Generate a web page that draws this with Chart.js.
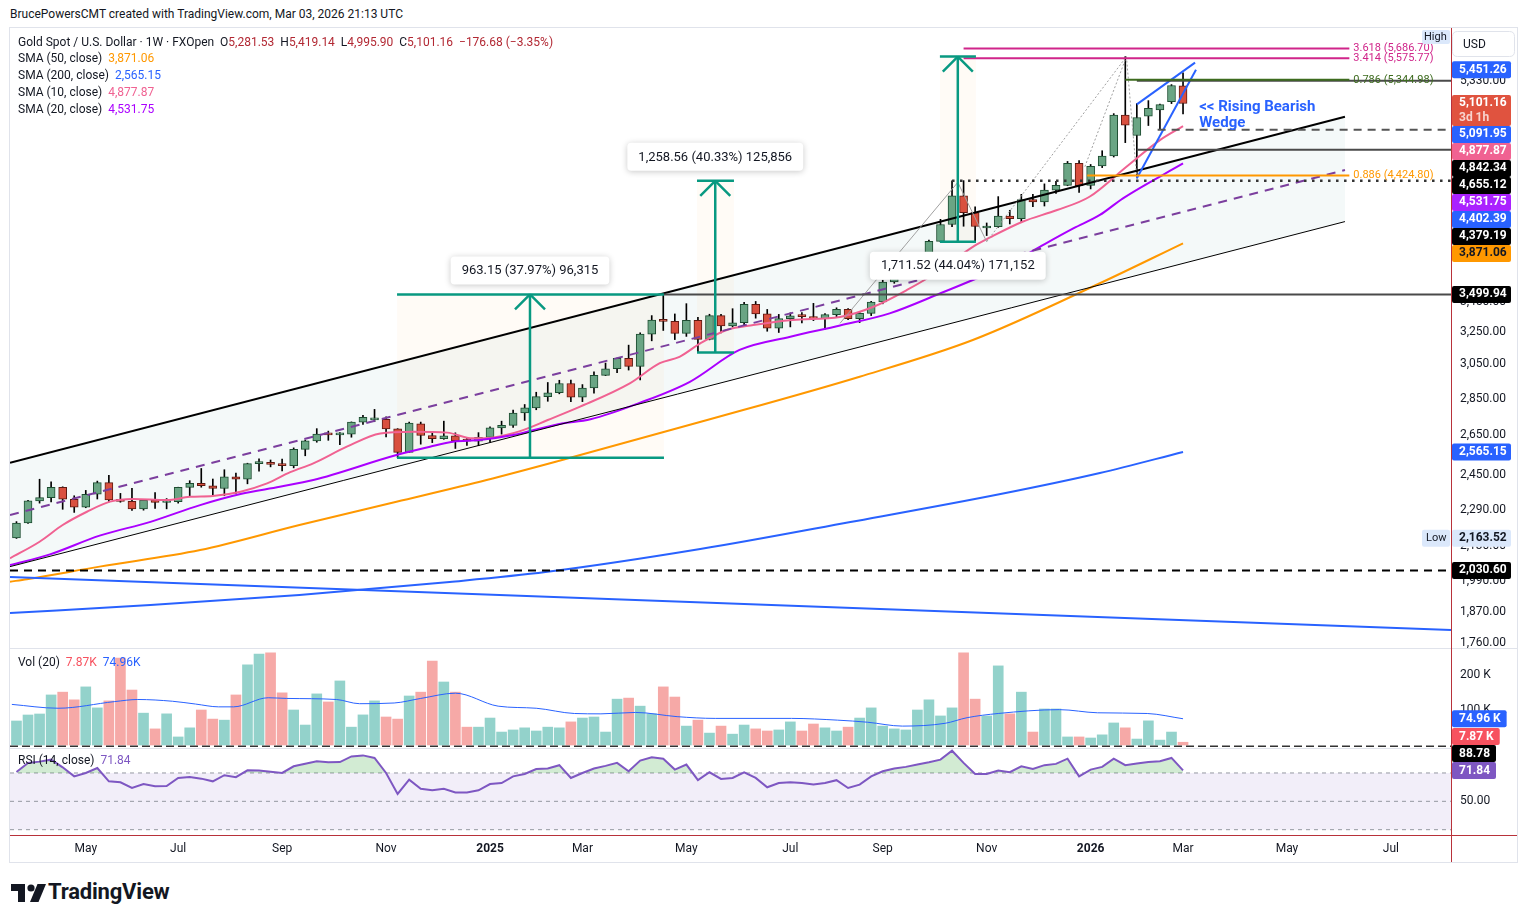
<!DOCTYPE html>
<html lang="en">
<head>
<meta charset="utf-8">
<title>Gold Spot / U.S. Dollar · 1W</title>
<script src="https://cdn.jsdelivr.net/npm/chart.js@4.4.1/dist/chart.umd.min.js"></script>
<style>
  html, body { margin: 0; padding: 0; background: #ffffff; }
  body { position: relative; width: 1527px; height: 923px; overflow: hidden;
         font-family: Roboto, "Noto Sans", "DejaVu Sans", sans-serif; color: #131722; }
  .txt { position: absolute; white-space: nowrap; font-size: 12px; line-height: 16px; }
  .line { position: absolute; }
  canvas { position: absolute; left: 10px; }
  .dn { color: #b22833; }
</style>
</head>
<body>
<div class="txt" style="left:10px;top:6px;">BrucePowersCMT created with TradingView.com, Mar 03, 2026 21:13 UTC</div>
<div class="line" style="left:9px;top:27px;width:1509px;height:836px;border:1px solid #e0e3eb;box-sizing:border-box;"></div>

<canvas id="priceChart" width="1507" height="620" style="top:28px"></canvas>
<canvas id="volChart" width="1507" height="100" style="top:648px"></canvas>
<canvas id="rsiChart" width="1507" height="117" style="top:745px"></canvas>

<div class="line" style="left:10px;top:648px;width:1507px;height:1px;background:#e0e3eb"></div>
<div class="line" style="left:10px;top:748px;width:1441px;height:1px;background:#e0e3eb"></div>
<div class="line" style="left:10px;top:835px;width:1507px;height:1px;background:#b8323a"></div>
<div class="line" style="left:1451px;top:28px;width:1px;height:834px;background:#b8323a"></div>

<div class="txt" style="left:18px;top:34px">Gold Spot / U.S. Dollar · 1W · FXOpen&nbsp;&nbsp;O<span class="dn">5,281.53</span>&nbsp;&nbsp;H<span class="dn">5,419.14</span>&nbsp;&nbsp;L<span class="dn">4,995.90</span>&nbsp;&nbsp;C<span class="dn">5,101.16</span>&nbsp;&nbsp;<span class="dn">−176.68 (−3.35%)</span></div>
<div class="txt" style="left:18px;top:50px">SMA (50, close)&nbsp;&nbsp;<span style="color:#ff9800">3,871.06</span></div>
<div class="txt" style="left:18px;top:67px">SMA (200, close)&nbsp;&nbsp;<span style="color:#2962ff">2,565.15</span></div>
<div class="txt" style="left:18px;top:84px">SMA (10, close)&nbsp;&nbsp;<span style="color:#f06292">4,877.87</span></div>
<div class="txt" style="left:18px;top:101px">SMA (20, close)&nbsp;&nbsp;<span style="color:#aa00ff">4,531.75</span></div>
<div class="txt" style="left:18px;top:654px">Vol (20)&nbsp;&nbsp;<span style="color:#f7525f">7.87K</span>&nbsp;&nbsp;<span style="color:#2962ff">74.96K</span></div>
<div class="txt" style="left:18px;top:752px">RSI (14, close)&nbsp;&nbsp;<span style="color:#7e57c2">71.84</span></div>

<svg class="line" style="left:11px;top:884px" width="36" height="18" viewBox="0 0 36 18">
  <path d="M0 0h14v18h-7v-11h-7z" fill="#131722"/>
  <circle cx="20" cy="4" r="3.6" fill="#131722"/>
  <path d="M19 18l7.5-18h8.5l-7.5 18z" fill="#131722"/>
</svg>
<div class="txt" style="left:48px;top:879px;font-size:22px;line-height:26px;font-weight:700;letter-spacing:-0.2px">TradingView</div>

<script>
// weekly candles, index 0 = week of Mar 25 2024, index 101 = week of Mar 2 2026
const opens = [2165,2230,2329,2344,2392,2337,2301,2360,2415,2334,
  2327,2293,2333,2322,2326,2392,2411,2400,2387,2443,
  2431,2507,2512,2503,2497,2578,2622,2658,2653,2657,
  2721,2733,2736,2685,2563,2712,2650,2633,2648,2622,
  2621,2640,2690,2703,2770,2798,2861,2883,2936,2858,
  2910,2984,3023,3085,3037,3237,3327,3319,3241,3325,
  3203,3357,3289,3310,3433,3368,3274,3337,3355,3350,
  3337,3363,3398,3336,3372,3448,3587,3643,3685,3760,
  3886,4018,4252,4113,3990,4000,4085,4065,4220,4200,
  4300,4340,4532,4340,4510,4600,4985,4789,4975,5036,
  5120,5281.53];
const highs = [2236,2332,2431,2418,2395,2353,2378,2422,2450,2364,
  2388,2336,2368,2340,2393,2424,2483,2432,2477,2461,
  2509,2531,2525,2529,2586,2626,2686,2673,2665,2722,
  2758,2790,2750,2686,2721,2721,2665,2726,2664,2638,
  2665,2695,2726,2786,2817,2886,2942,2955,2956,2930,
  3005,3057,3087,3167,3245,3357,3500,3368,3437,3345,
  3366,3365,3403,3446,3452,3398,3365,3375,3377,3439,
  3370,3409,3404,3378,3453,3600,3674,3707,3791,3897,
  4059,4379,4381,4161,4030,4245,4132,4264,4264,4353,
  4375,4550,4557,4523,4647,5000,5595,5101,5130,5096,
  5295,5419.14];
const lows = [2163,2228,2319,2324,2291,2277,2298,2338,2325,2323,
  2286,2287,2295,2293,2319,2353,2393,2353,2353,2364,
  2409,2470,2491,2471,2486,2546,2615,2625,2603,2641,
  2708,2723,2643,2536,2563,2605,2613,2630,2583,2599,
  2597,2615,2657,2692,2730,2788,2835,2877,2833,2833,
  2880,2982,3000,3015,2957,3194,3260,3202,3222,3121,
  3200,3245,3282,3293,3340,3255,3247,3283,3309,3324,
  3268,3348,3330,3311,3357,3436,3578,3627,3628,3717,
  3884,4000,4004,3886,3931,3995,4022,4040,4161,4167,
  4271,4337,4280,4310,4495,4590,4722,4404,4884,4854,
  5100,4995.90];
const closes = [2230,2329,2344,2392,2337,2301,2360,2415,2334,2327,
  2293,2333,2322,2326,2392,2411,2400,2387,2443,2431,
  2507,2512,2503,2497,2578,2622,2658,2653,2657,2721,
  2747,2736,2685,2563,2716,2650,2633,2648,2622,2621,
  2640,2690,2703,2770,2798,2861,2883,2936,2858,2910,
  2984,3023,3085,3037,3237,3327,3319,3241,3325,3203,
  3357,3289,3310,3433,3368,3274,3337,3355,3350,3337,
  3363,3398,3336,3372,3448,3587,3643,3685,3760,3886,
  4018,4252,4113,4002,4000,4085,4065,4220,4200,4300,
  4340,4532,4337,4507,4598,4985,4887,4962,5052,5090,
  5285,5101.16];
// volume in thousands
const volumes = [68.6,85.7,88.6,143,151,129,166,106,126,248,
  157,91,46,89,23,49,100,74,71,143,
  229,260,263,149,100,57,146,123,183,51,
  86,126,80,74,140,151,240,180,151,51,
  51,77,37,43,49,40,51,49,66,77,
  80,37,131,134,111,89,166,137,54,71,
  34,54,31,57,46,40,43,66,40,60,
  49,40,51,77,106,54,46,43,100,129,
  83,106,263,131,83,226,89,151,37,103,
  103,23,23,20,29,63,49,17,69,14,
  37,7.87];
const rsiValues = [70.7,77,78,79.4,74,67.6,70,73.5,64.1,63.4,
  59.4,62.2,60.6,60.8,66.5,67.2,66,64.1,68.4,67,
  71.9,71.7,70.8,70,74.7,76.5,78.3,77.5,77.7,81.7,
  82.4,80.6,70,55.2,65.3,58.9,57.8,58.9,56.3,56.3,
  57.8,62.2,62.9,67.6,69.3,72.8,73.1,75.5,66.5,70,
  73.1,75,77.1,71.2,78.7,81.1,80.1,72.4,75.9,64.9,
  70.5,65.8,66.5,70.5,66.5,59.9,62.9,63.5,63,61.8,
  62.9,64.9,59.4,61.8,67.6,71.2,73.1,74.3,76,77.5,
  79.4,85.7,77.1,69.3,69.3,71.7,70.5,74.7,72.8,75.5,
  76.4,80.1,67.6,72.4,74.3,80.1,75.5,76.6,77.8,78.3,
  80.6,71.84];

// moving averages: [week, value]
const sma10 = [[-0.56,2080],[2,2149],[4,2221],[6.1,2280],[8.1,2326],[10.1,2338],[13,2333],[15,2348],[17,2352],[19.4,2372],[21.7,2411],[23.7,2465],[25.7,2508],[28.6,2592],[31.5,2661],[34.3,2670],[37.3,2665],[39.5,2635],[41.3,2640],[43.6,2673],[46,2732],[48.8,2805],[53.1,2937],[55.7,3056],[57.4,3095],[59.2,3178],[61.5,3263],[63.8,3295],[67.2,3328],[71.3,3348],[74.2,3416],[77.1,3531],[80,3673],[82.8,3845],[84.3,3917],[87.1,4040],[90.1,4134],[92.9,4244],[96.1,4503],[99,4746],[101,4877.87]];
const sma20 = [[-0.56,2052],[2.9,2096],[7.2,2175],[11.6,2235],[15.9,2310],[19.4,2361],[22.8,2395],[25.7,2427],[32.9,2550],[35.8,2592],[37.8,2618],[40.1,2626],[43,2652],[47,2711],[49.7,2736],[54,2827],[58.3,2946],[62.6,3137],[67,3220],[71.3,3292],[75.6,3372],[80,3508],[82.8,3601],[85.8,3709],[88.6,3845],[91.5,3987],[93.8,4094],[95.8,4231],[101,4531.75]];
const sma50 = [[-0.56,1986],[0.9,1996],[7.2,2046],[15.9,2114],[24.5,2221],[32.9,2325],[40.7,2427],[47,2521],[59.8,2732],[73,2976],[82.8,3199],[93.8,3578],[101,3871.06]];
const sma200 = [[-0.56,1867],[11.6,1897],[24.5,1935],[37.5,1985],[45.8,2024],[59.2,2118],[72.2,2234],[85.2,2361],[93.8,2461],[101,2565.15]];
const volMA = [[-0.4,116],[3.6,105],[8.5,124],[10.5,130],[13.5,125],[15.5,117],[17.5,109],[18.8,109],[21.8,135],[23.4,133],[27.7,130],[29.7,118],[32.7,120],[35,133],[38,148],[41.7,111],[45,105],[48.3,90],[50.6,89],[53.6,93],[57.2,81],[60.5,76],[67.1,76],[71.1,71],[73.7,65],[76.7,54],[80.4,62],[82.3,78],[85,90],[90.3,101],[93.6,92],[97.9,90],[101,74.96]];

// axis ticks
const priceTicks = [5330, 3450, 3250, 3050, 2850, 2650, 2450, 2290, 2130, 1990, 1870, 1760];
const volTicks = [200, 100];
const rsiTicks = [50];
const monthWeeks = [6, 14, 23, 32, 41, 49, 58, 67, 75, 84, 93, 101, 110, 119];
const monthLabels = ['May', 'Jul', 'Sep', 'Nov', '2025', 'Mar', 'May', 'Jul', 'Sep', 'Nov', '2026', 'Mar', 'May', 'Jul'];

// drawings (week, price anchors)
const channel = { top: [[-0.56, 2511], [115.02, 4969]], mid: [[-0.56, 2265], [115.02, 4474]], bot: [[-0.56, 2046], [115.02, 4041]] };
const trendLines = [
  { a: [-0.56, 2511], b: [115.02, 4969], color: '#000000', width: 2 },
  { a: [-0.56, 2265], b: [115.02, 4474], color: '#7b3f9e', width: 2, dash: [9, 7] },
  { a: [-0.56, 2046], b: [115.02, 4041], color: '#000000', width: 1 },
  { a: [-0.56, 2005], b: [124.2, 1806], color: '#2962ff', width: 2 },
  { a: [71.3, 3306], b: [81.5, 4366], color: '#a0a0a0', width: 1 },
  { a: [81.5, 4366], b: [84.0, 3884], color: '#a0a0a0', width: 1 },
  { a: [84.0, 3884], b: [96.1, 5595], color: '#a0a0a0', width: 1, dash: [2, 2] },
  { a: [92.5, 4503], b: [96.1, 5595], color: '#a0a0a0', width: 1, dash: [2, 2] },
  { a: [96.1, 5595], b: [97.0, 4404], color: '#a0a0a0', width: 1, dash: [2, 2] },
  { a: [97.0, 5091.95], b: [102.04, 5529], color: '#2962ff', width: 2 },
  { a: [97.0, 4402.39], b: [102.12, 5451.26], color: '#2962ff', width: 2 }
];
const levels = [
  { p: 2030.60, i0: -0.56, i1: 124.2, color: '#000000', width: 2, dash: [8, 6] },
  { p: 3499.94, i0: 56.06, i1: 124.2, color: '#4a4a4a', width: 2 },
  { p: 4379.19, i0: 81.0, i1: 124.2, color: '#333333', width: 2.5, dash: [2.5, 5.5] },
  { p: 4655.12, i0: 97.0, i1: 124.2, color: '#4a4a4a', width: 2 },
  { p: 4842.34, i0: 98.8, i1: 124.2, color: '#555555', width: 2, dash: [8, 6] },
  { p: 5335.00, i0: 97.0, i1: 124.2, color: '#4a4a4a', width: 2 }
];
const fibLevels = [
  { p: 5686.70, i0: 82.0, text: '3.618 (5,686.70)', color: '#d0258a' },
  { p: 5575.77, i0: 82.0, text: '3.414 (5,575.77)', color: '#d0258a' },
  { p: 5344.98, i0: 96.0, text: '0.786 (5,344.98)', color: '#3d6b1e' },
  { p: 4424.80, i0: 92.7, text: '0.886 (4,424.80)', color: '#ff9800' }
];
const fibEnd = 115.4;
const measures = [
  { lo: 2536.75, hi: 3499.90, i0: 32.95, i1: 56.06, ic: 44.46, text: '963.15 (37.97%) 96,315', pos: 'above' },
  { lo: 3120.63, hi: 4379.19, i0: 58.92, i1: 62.12, ic: 60.5, text: '1,258.56 (40.33%) 125,856', pos: 'above' },
  { lo: 3883.58, hi: 5595.10, i0: 79.95, i1: 83.07, ic: 81.5, text: '1,711.52 (44.04%) 171,152', pos: 'below' }
];
const wedgeNote = { at: [102.4, 5066], lines: ['<< Rising Bearish', 'Wedge'] };

const priceTags = [
  { v: 5451.26, bg: '#2962ff' },
  { v: 5101.16, bg: '#e0533f', sub: '3d 1h' },
  { v: 5091.95, bg: '#2962ff' },
  { v: 4877.87, bg: '#f06292' },
  { v: 4842.34, bg: '#000000' },
  { v: 4655.12, bg: '#000000' },
  { v: 4531.75, bg: '#aa22ff' },
  { v: 4402.39, bg: '#2962ff' },
  { v: 4379.19, bg: '#000000' },
  { v: 3871.06, bg: '#ff9800', fg: '#131722' },
  { v: 3499.94, bg: '#000000' },
  { v: 2565.15, bg: '#2962ff' },
  { v: 2163.52, bg: '#dbe8fb', fg: '#131722', pre: 'Low' },
  { v: 2030.60, bg: '#000000' }
];
const volTags = [ { v: 74.96, bg: '#2962ff', text: '74.96 K' }, { v: 7.87, bg: '#f7525f', text: '7.87 K' } ];
const rsiTags = [ { v: 88.78, bg: '#000000', text: '88.78' }, { v: 71.84, bg: '#7e57c2', text: '71.84' } ];

const X_MIN = -0.56, X_MAX = 124.2;
const FONT = 'Roboto, "Noto Sans", sans-serif';
const weeks = opens.map((_, i) => i);
const isUp = weeks.map(i => closes[i] >= opens[i]);
const pts = arr => arr.map(([x, y]) => ({ x, y }));
const fmt2 = v => v.toLocaleString('en-US', { minimumFractionDigits: 2, maximumFractionDigits: 2 });

function roundRect(ctx, x, y, w, h, r) {
  ctx.beginPath();
  ctx.moveTo(x + r, y); ctx.lineTo(x + w - r, y); ctx.quadraticCurveTo(x + w, y, x + w, y + r);
  ctx.lineTo(x + w, y + h - r); ctx.quadraticCurveTo(x + w, y + h, x + w - r, y + h);
  ctx.lineTo(x + r, y + h); ctx.quadraticCurveTo(x, y + h, x, y + h - r);
  ctx.lineTo(x, y + r); ctx.quadraticCurveTo(x, y, x + r, y); ctx.closePath();
}

// stack tags so they do not overlap, like the price scale does
function stackTags(list, toY, top, bottom) {
  const items = list.map(t => Object.assign({}, t, { h: t.sub ? 31 : 17 })).sort((a, b) => b.v - a.v);
  let prev = top;
  items.forEach(t => {
    let y0 = toY(t.v) - 8.5;
    if (y0 < prev) y0 = prev;
    t.top = y0; prev = y0 + t.h;
  });
  let lim = bottom;
  for (let k = items.length - 1; k >= 0; k--) {
    const t = items[k];
    if (t.top + t.h > lim) t.top = lim - t.h;
    lim = t.top;
  }
  return items;
}

function drawTag(ctx, x, t, w) {
  ctx.fillStyle = t.bg;
  roundRect(ctx, x, t.top, w, t.h, 2);
  ctx.fill();
  ctx.fillStyle = t.fg || '#ffffff';
  ctx.font = 'bold 12px ' + FONT;
  ctx.textAlign = 'left';
  ctx.textBaseline = 'middle';
  ctx.fillText(t.text || fmt2(t.v), x + 7, t.top + 8.5);
  if (t.sub) {
    ctx.fillStyle = 'rgba(255,255,255,0.75)';
    ctx.fillText(t.sub, x + 7, t.top + 23);
  }
}

function segment(ctx, x1, y1, x2, y2, color, width, dash) {
  ctx.beginPath();
  ctx.strokeStyle = color; ctx.lineWidth = width;
  ctx.setLineDash(dash || []);
  ctx.moveTo(x1, y1); ctx.lineTo(x2, y2); ctx.stroke();
  ctx.setLineDash([]);
}

const priceDrawings = {
  id: 'priceDrawings',
  beforeDatasetsDraw(chart) {
    const { ctx, chartArea: a } = chart;
    const X = v => chart.scales.x.getPixelForValue(v), Y = v => chart.scales.y.getPixelForValue(v);
    ctx.save();
    ctx.beginPath(); ctx.rect(a.left, a.top, a.width, a.height); ctx.clip();
    ctx.fillStyle = 'rgba(0,121,107,0.045)';
    ctx.beginPath();
    ctx.moveTo(X(channel.top[0][0]), Y(channel.top[0][1]));
    ctx.lineTo(X(channel.top[1][0]), Y(channel.top[1][1]));
    ctx.lineTo(X(channel.bot[1][0]), Y(channel.bot[1][1]));
    ctx.lineTo(X(channel.bot[0][0]), Y(channel.bot[0][1]));
    ctx.closePath(); ctx.fill();
    ctx.fillStyle = 'rgba(255,152,0,0.035)';
    measures.forEach(m => ctx.fillRect(X(m.i0), Y(m.hi), X(m.i1) - X(m.i0), Y(m.lo) - Y(m.hi)));
    ctx.restore();
  },
  afterDatasetsDraw(chart) {
    const { ctx, chartArea: a } = chart;
    const X = v => chart.scales.x.getPixelForValue(v), Y = v => chart.scales.y.getPixelForValue(v);
    ctx.save();
    ctx.beginPath(); ctx.rect(a.left, a.top, a.width, a.height); ctx.clip();
    trendLines.forEach(l => segment(ctx, X(l.a[0]), Y(l.a[1]), X(l.b[0]), Y(l.b[1]), l.color, l.width, l.dash));
    levels.forEach(l => segment(ctx, X(l.i0), Y(l.p), X(l.i1), Y(l.p), l.color, l.width, l.dash));
    ctx.font = '11px ' + FONT; ctx.textBaseline = 'middle'; ctx.textAlign = 'left';
    fibLevels.forEach(f => {
      segment(ctx, X(f.i0), Y(f.p), X(fibEnd), Y(f.p), f.color, 2);
      ctx.fillStyle = f.color;
      ctx.fillText(f.text, X(fibEnd) + 4, Y(f.p));
    });
    // price range measurements
    measures.forEach(m => {
      const c = '#089981';
      segment(ctx, X(m.i0), Y(m.lo), X(m.i1), Y(m.lo), c, 2.5);
      segment(ctx, X(m.i0), Y(m.hi), X(m.i1), Y(m.hi), c, 2.5);
      segment(ctx, X(m.ic), Y(m.lo), X(m.ic), Y(m.hi), c, 2.5);
      segment(ctx, X(m.ic) - 15, Y(m.hi) + 15, X(m.ic), Y(m.hi), c, 2.5);
      segment(ctx, X(m.ic) + 15, Y(m.hi) + 15, X(m.ic), Y(m.hi), c, 2.5);
      ctx.font = '13px ' + FONT;
      const w = ctx.measureText(m.text).width + 22, h = 28;
      const cy = m.pos === 'above' ? Y(m.hi) - 10 - h / 2 : Y(m.lo) + 10 + h / 2;
      ctx.save();
      ctx.shadowColor = 'rgba(0,0,0,0.22)'; ctx.shadowBlur = 6; ctx.shadowOffsetY = 1;
      ctx.fillStyle = '#ffffff';
      roundRect(ctx, X(m.ic) - w / 2, cy - h / 2, w, h, 4); ctx.fill();
      ctx.restore();
      ctx.fillStyle = '#131722'; ctx.textAlign = 'center'; ctx.textBaseline = 'middle';
      ctx.fillText(m.text, X(m.ic), cy + 0.5);
    });
    ctx.fillStyle = '#2962ff'; ctx.font = 'bold 15px ' + FONT; ctx.textAlign = 'left';
    wedgeNote.lines.forEach((s, k) => ctx.fillText(s, X(wedgeNote.at[0]), Y(wedgeNote.at[1]) + k * 16));
    ctx.restore();
  },
  afterDraw(chart) {
    const { ctx, chartArea: a } = chart;
    const Y = v => chart.scales.y.getPixelForValue(v);
    ctx.save();
    ctx.font = '12px ' + FONT; ctx.fillStyle = '#131722'; ctx.textAlign = 'left'; ctx.textBaseline = 'middle';
    priceTicks.forEach(p => { const y = Y(p); if (y > a.top + 4 && y < a.bottom - 2) ctx.fillText(fmt2(p), a.right + 9, y); });
    const tags = stackTags(priceTags, Y, a.top, a.bottom);
    tags.forEach(t => {
      drawTag(ctx, a.right + 1, t, 59);
      if (t.pre) {
        ctx.fillStyle = t.bg; roundRect(ctx, a.right - 29, t.top, 28, t.h, 2); ctx.fill();
        ctx.fillStyle = '#131722'; ctx.font = '11px ' + FONT; ctx.fillText(t.pre, a.right - 25, t.top + 8.5);
      }
    });
    ctx.fillStyle = '#dbe8fb'; roundRect(ctx, a.right - 29, a.top + 2, 28, 14, 2); ctx.fill();
    ctx.fillStyle = '#131722'; ctx.font = '11px ' + FONT; ctx.fillText('High', a.right - 27, a.top + 9);
    ctx.fillStyle = '#ffffff'; ctx.strokeStyle = '#e0e3eb'; ctx.lineWidth = 1;
    roundRect(ctx, a.right + 1.5, a.top + 3.5, 62, 25, 5); ctx.fill(); ctx.stroke();
    ctx.fillStyle = '#131722'; ctx.font = '12px ' + FONT; ctx.fillText('USD', a.right + 12, a.top + 16.5);
    ctx.restore();
  }
};

const volDrawings = {
  id: 'volDrawings',
  afterDraw(chart) {
    const { ctx, chartArea: a } = chart;
    const Y = v => chart.scales.y.getPixelForValue(v);
    ctx.save();
    ctx.font = '12px ' + FONT; ctx.fillStyle = '#131722'; ctx.textAlign = 'left'; ctx.textBaseline = 'middle';
    volTicks.forEach(v => ctx.fillText(v + ' K', a.right + 9, Y(v)));
    const tags = stackTags(volTags, Y, a.top, Y(0));
    ctx.font = 'bold 12px ' + FONT;
    tags.forEach(t => drawTag(ctx, a.right + 1, t, ctx.measureText(t.text).width + 13));
    ctx.restore();
  }
};

const rsiDrawings = {
  id: 'rsiDrawings',
  beforeDatasetsDraw(chart) {
    const { ctx, chartArea: a } = chart;
    const Y = v => chart.scales.y.getPixelForValue(v);
    ctx.save();
    ctx.fillStyle = 'rgba(126,87,194,0.1)';
    ctx.fillRect(a.left, Y(70), a.width, Y(30) - Y(70));
    [70, 50, 30].forEach(v => segment(ctx, a.left, Y(v), a.right, Y(v), '#9598a1', 1, [4, 4]));
    segment(ctx, a.left, Y(88.78), a.right, Y(88.78), '#333333', 1.5, [8, 4]);
    ctx.restore();
  },
  afterDraw(chart) {
    const { ctx, chartArea: a } = chart;
    const X = v => chart.scales.x.getPixelForValue(v), Y = v => chart.scales.y.getPixelForValue(v);
    ctx.save();
    ctx.font = '12px ' + FONT; ctx.fillStyle = '#131722'; ctx.textAlign = 'left'; ctx.textBaseline = 'middle';
    rsiTicks.forEach(v => ctx.fillText(fmt2(v), a.right + 9, Y(v)));
    const tags = stackTags(rsiTags, Y, a.top, a.bottom);
    tags.forEach(t => drawTag(ctx, a.right + 1, t, 44));
    ctx.textAlign = 'center';
    monthWeeks.forEach((w, k) => {
      const lab = monthLabels[k];
      ctx.font = (/^\d{4}$/.test(lab) ? 'bold ' : '') + '12px ' + FONT;
      ctx.fillStyle = '#131722';
      ctx.fillText(lab, X(w), a.bottom + 14);
    });
    ctx.restore();
  }
};

const xScale = { type: 'linear', min: X_MIN, max: X_MAX, display: false, offset: false, grid: { display: false } };
const baseOptions = (extraY, padBottom) => ({
  responsive: false, animation: false, events: [],
  layout: { padding: { left: 0, right: 66, top: 0, bottom: padBottom || 0 } },
  plugins: { legend: { display: false }, tooltip: { enabled: false } },
  scales: { x: xScale, y: extraY }
});
const lineDs = (data, color, width, order) => ({
  type: 'line', data: pts(data), borderColor: color, borderWidth: width, pointRadius: 0,
  cubicInterpolationMode: 'monotone', fill: false, order: order
});

new Chart(document.getElementById('priceChart'), {
  type: 'bar',
  data: {
    datasets: [
      { label: 'wick', data: weeks.map(i => ({ x: i, y: [lows[i], highs[i]] })), backgroundColor: '#000000',
        barThickness: 1, grouped: false, order: 20 },
      { label: 'body', data: weeks.map(i => ({ x: i, y: [opens[i], closes[i]] })),
        backgroundColor: weeks.map(i => isUp[i] ? '#6aa584' : '#d9503f'),
        borderColor: weeks.map(i => isUp[i] ? '#1d4d31' : '#5e1a12'),
        borderWidth: 1, borderSkipped: false, barThickness: 8, minBarLength: 2, grouped: false, order: 15 },
      lineDs(sma200, '#2962ff', 2, 5),
      lineDs(sma50, '#ff9800', 2, 5),
      lineDs(sma20, '#aa00ff', 2, 5),
      lineDs(sma10, '#f06292', 2, 5)
    ]
  },
  options: baseOptions({ type: 'logarithmic', min: 1742.6, max: 5920, display: false }),
  plugins: [priceDrawings]
});

new Chart(document.getElementById('volChart'), {
  type: 'bar',
  data: {
    datasets: [
      { data: weeks.map(i => ({ x: i, y: volumes[i] })),
        backgroundColor: weeks.map(i => isUp[i] ? '#93d2cb' : '#f6a9a7'),
        barThickness: 10, grouped: false, order: 10 },
      lineDs(volMA, '#2962ff', 1, 1)
    ]
  },
  options: baseOptions({ type: 'linear', min: -8.57, max: 277.1, display: false }),
  plugins: [volDrawings]
});

new Chart(document.getElementById('rsiChart'), {
  type: 'line',
  data: {
    datasets: [
      { data: weeks.map(i => ({ x: i, y: rsiValues[i] })), borderColor: '#7e57c2', borderWidth: 2, pointRadius: 0,
        tension: 0, fill: { target: { value: 70 }, above: 'rgba(76,175,80,0.25)', below: 'rgba(0,0,0,0)' } }
    ]
  },
  options: baseOptions({ type: 'linear', min: 26.24, max: 89.73, display: false }, 27),
  plugins: [rsiDrawings]
});
</script>
</body>
</html>
